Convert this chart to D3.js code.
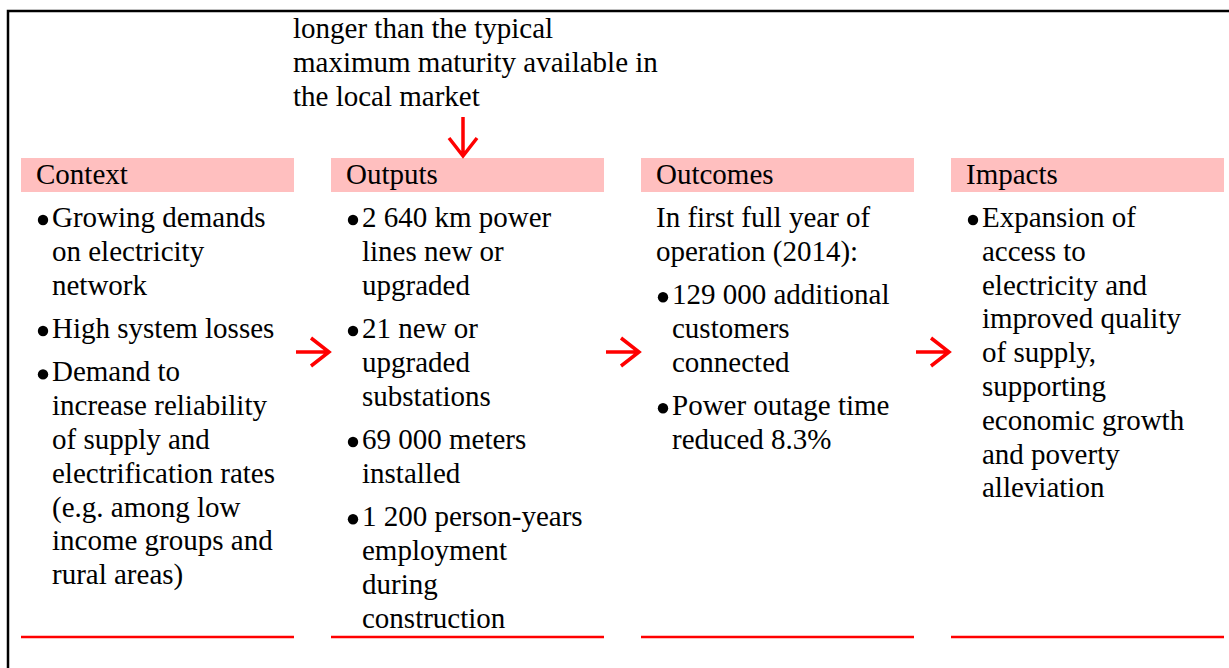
<!DOCTYPE html>
<html>
<head>
<meta charset="utf-8">
<script src="https://cdn.jsdelivr.net/npm/d3@7"></script>
<style>
  html, body { margin: 0; padding: 0; background: #fff; }
  svg text { font-family: "Liberation Serif", "Times New Roman", Times, serif; fill: #000; }
</style>
</head>
<body>
<div id="chart"></div>
<script>
// --- data ---
const columns = ["Context", "Outputs", "Outcomes", "Impacts"];

const contextItems = [
  { bullet: true, lines: ["Growing demands", "on electricity", "network"] },
  { bullet: true, lines: ["High system losses"] },
  { bullet: true, lines: ["Demand to", "increase reliability", "of supply and", "electrification rates", "(e.g. among low", "income groups and", "rural areas)"] }
];
const outputItems = [
  { bullet: true, lines: ["2 640 km power", "lines new or", "upgraded"] },
  { bullet: true, lines: ["21 new or", "upgraded", "substations"] },
  { bullet: true, lines: ["69 000 meters", "installed"] },
  { bullet: true, lines: ["1 200 person-years", "employment", "during", "construction"] }
];
const outcomeItems = [
  { bullet: false, lines: ["In first full year of", "operation (2014):"] },
  { bullet: true, lines: ["129 000 additional", "customers", "connected"] },
  { bullet: true, lines: ["Power outage time", "reduced 8.3%"] }
];
const impactItems = [
  { bullet: true, lines: ["Expansion of", "access to", "electricity and", "improved quality", "of supply,", "supporting", "economic growth", "and poverty", "alleviation"] }
];
const columnItems = [contextItems, outputItems, outcomeItems, impactItems];

const noteLines = ["longer than the typical", "maximum maturity available in", "the local market"];

// --- layout ---
const width = 1229, height = 668;
const red = "#ff0000", pink = "#ffbfbf";
const fontSize = 29, lineH = 33.8, paraGap = 9.6;

const svg = d3.select("#chart").append("svg")
  .attr("width", width).attr("height", height);

const x = d3.scaleBand().domain(columns).range([21, 1224]).paddingInner(0.1194).paddingOuter(0);

// outer frame (only top and left are visible)
svg.append("rect")
  .attr("x", 8).attr("y", 11)
  .attr("width", 1400).attr("height", 900)
  .attr("fill", "none").attr("stroke", "#000").attr("stroke-width", 2.5);

function addText(sel, tx, ty, str) {
  return sel.append("text").attr("x", tx).attr("y", ty)
    .style("font-size", fontSize + "px")
    .text(str);
}

// note above
const note = svg.append("g");
noteLines.forEach((l, i) => addText(note, 293, 38 + i * lineH, l));

// header boxes
const head = svg.append("g").selectAll("g").data(columns).enter().append("g");
head.append("rect")
  .attr("x", d => x(d)).attr("y", 158)
  .attr("width", x.bandwidth()).attr("height", 34)
  .attr("fill", pink);
head.each(function (d) { addText(d3.select(this), x(d) + 15, 184, d); });

// bottom red rules
svg.append("g").selectAll("line").data(columns).enter().append("line")
  .attr("x1", d => x(d)).attr("x2", d => x(d) + x.bandwidth())
  .attr("y1", 637).attr("y2", 637)
  .attr("stroke", red).attr("stroke-width", 2.5);

// body text
columns.forEach((c, ci) => {
  const g = svg.append("g");
  let y = 227;
  columnItems[ci].forEach((item, pi) => {
    if (pi > 0) y += paraGap;
    const tx = x(c) + (item.bullet ? 31 : 15);
    if (item.bullet) {
      g.append("circle").attr("cx", x(c) + 22).attr("cy", y - 7).attr("r", 5.2).attr("fill", "#000");
    }
    item.lines.forEach(l => {
      addText(g, tx, y, l);
      y += lineH;
    });
  });
});

// right arrows between columns
const arrowY = 352;
svg.append("g").selectAll("path").data(columns.slice(0, -1)).enter().append("path")
  .attr("d", d => {
    const x0 = x(d) + x.bandwidth() + 2, x1 = x(d) + x.step() - 2;
    return `M${x0},${arrowY}H${x1}M${x1 - 18},${arrowY - 14}L${x1},${arrowY}L${x1 - 18},${arrowY + 14}`;
  })
  .attr("fill", "none").attr("stroke", red).attr("stroke-width", 3.5);

// down arrow into Outputs
const ax = x("Outputs") + 132;
svg.append("path")
  .attr("d", `M${ax},117V156M${ax - 14},138L${ax},156L${ax + 14},138`)
  .attr("fill", "none").attr("stroke", red).attr("stroke-width", 3.5);
</script>
</body>
</html>
